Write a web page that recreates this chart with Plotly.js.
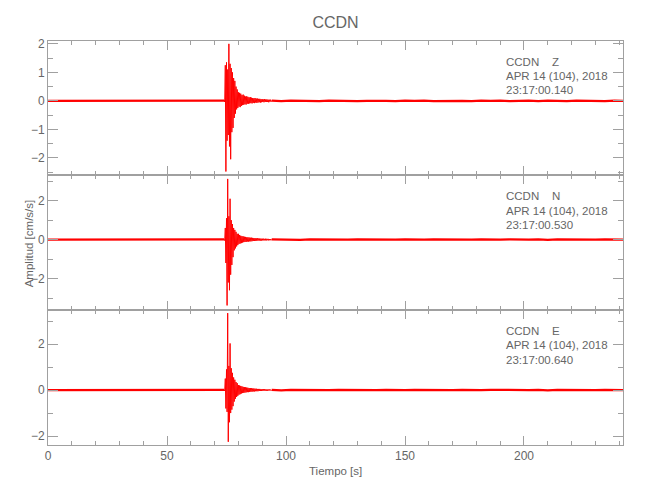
<!DOCTYPE html>
<html>
<head>
<meta charset="utf-8">
<script src="https://cdn.plot.ly/plotly-3.0.1.min.js"></script>
<style>html,body{margin:0;padding:0;background:#fff;}#chart{width:650px;height:500px;}</style>
</head>
<body>
<div id="chart"></div>
<script>
// ---- data ----
// sampling of each segment: start time [s] and step [s]
const preStart = -2, preStep = 4;
const evStart = 74, evStep = 0.25;
const postStart = 94, postStep = 4;

// Z component (baseline segments give the mean level of the thin noise band)
const zPre = [0.0,0.0,-0.01,0.01,0.0,0.01,-0.01,0.0,-0.01,0.01,0.0,0.01,-0.01,0.01,-0.01,0.01,-0.01,0.01,0.0,0.01];
const zEvent = [0.03,-0.04,1.25,-2.48,1.35,-1.4,1.1,-1.2,2.0,-1.6,1.3,-2.05,1.15,-1.1,1.0,-0.95,0.8,-0.6,0.7,-0.45,0.5,-0.3,0.4,-0.25,
  0.3,-0.2,0.28,-0.22,0.25,-0.18,0.2,-0.15,0.22,-0.14,0.18,-0.12,0.15,-0.13,0.16,-0.1,0.14,-0.1,0.12,-0.09,
  0.13,-0.08,0.11,-0.09,0.1,-0.07,0.09,-0.08,0.1,-0.06,0.08,-0.07,0.08,-0.06,0.07,-0.05,0.07,-0.06,0.06,-0.05,
  0.06,-0.04,0.05,-0.05,0.06,-0.04,0.05,-0.04,0.05,-0.04,0.04,-0.05,0.04,-0.03,0.04,-0.03,0.01];
const zPost = [0.01,-0.01,0.01,0.0,0.01,-0.01,0.01,0.0,0.01,-0.01,0.0,0.01,0.0,-0.01,0.01,0.0,0.01,-0.01,0.0,0.01,
  0.0,-0.01,0.01,0.0,0.01,-0.01,0.0,0.01,-0.01,0.01,0.0,-0.01,0.01,0.0,0.01,-0.01,0.01,0.0];

// N component
const nPre = [0.0,0.0,-0.01,0.01,0.0,0.01,0.0,-0.01,0.01,0.0,0.01,-0.01,0.0,0.01,-0.01,0.01,0.0,0.01,-0.01,0.01];
const nEvent = [0.02,-0.05,0.6,-1.2,1.1,-3.38,3.12,-2.2,1.2,-2.6,2.1,-1.8,1.0,-1.3,0.8,-0.9,0.6,-0.55,0.5,-0.45,0.4,-0.35,0.3,-0.28,
  0.3,-0.22,0.24,-0.2,0.2,-0.18,0.18,-0.15,0.17,-0.13,0.15,-0.12,0.14,-0.12,0.12,-0.1,0.12,-0.1,0.11,-0.09,
  0.1,-0.09,0.1,-0.08,0.09,-0.07,0.08,-0.07,0.08,-0.06,0.07,-0.06,0.07,-0.05,0.06,-0.05,0.06,-0.05,0.05,-0.05,
  0.05,-0.04,0.05,-0.04,0.04,-0.04,0.05,-0.04,0.04,-0.03,0.04,-0.04,0.03,-0.03,0.03,-0.03,0.01];
const nPost = [0.01,0.0,0.01,-0.01,0.01,0.0,0.01,-0.01,0.0,0.01,0.0,-0.01,0.01,0.0,0.01,-0.01,0.0,0.01,0.0,-0.01,
  0.01,0.0,0.01,-0.01,0.0,0.01,-0.01,0.0,0.01,-0.01,0.01,0.0,0.01,-0.01,0.0,0.01,0.01,0.0];

// E component
const ePre = [0.0,0.0,-0.01,0.0,0.01,-0.01,0.0,0.01,0.0,-0.01,0.01,0.0,-0.01,0.01,0.0,0.01,-0.01,0.01,0.0,0.01];
const eEvent = [0.02,-0.04,0.5,-0.8,0.9,-0.95,3.35,-2.25,1.05,-1.4,2.03,-1.0,0.95,-0.85,0.75,-0.7,0.55,-0.5,0.45,-0.38,0.35,-0.3,0.3,-0.25,
  0.22,-0.2,0.2,-0.18,0.18,-0.15,0.16,-0.13,0.14,-0.12,0.13,-0.11,0.12,-0.1,0.11,-0.09,0.1,-0.09,0.09,-0.08,
  0.09,-0.07,0.08,-0.07,0.07,-0.06,0.07,-0.06,0.06,-0.05,0.06,-0.05,0.05,-0.05,0.05,-0.04,0.05,-0.04,0.04,-0.04,
  0.04,-0.03,0.04,-0.03,0.04,-0.03,0.03,-0.03,0.03,-0.03,0.03,-0.02,0.03,-0.02,0.02,-0.02,0.01];
const ePost = [0.01,-0.01,0.01,0.0,0.01,-0.01,0.0,0.01,0.0,-0.01,0.01,0.0,0.01,-0.01,0.0,0.01,0.0,-0.01,0.01,0.0,
  0.01,-0.01,0.0,0.01,0.0,-0.01,0.01,0.0,0.01,-0.01,0.01,0.0,0.01,-0.01,0.0,0.01,0.01,0.0];

const GAP = '\u00a0\u00a0\u00a0\u00a0';
const stations = ['CCDN' + GAP + 'Z', 'CCDN' + GAP + 'N', 'CCDN' + GAP + 'E'];
const dateLabel = 'APR 14 (104), 2018';
const startTimes = ['23:17:00.140', '23:17:00.530', '23:17:00.640'];
const titleText = 'CCDN';
const xTitle = 'Tiempo [s]';
const yTitle = 'Amplitud [cm/s/s]';

// ---- styling ----
const FONT = 'Liberation Sans, Arial, sans-serif';
const RED = '#ff0000';
const AX = '#a0a0a0';
const TXT = '#666666';
const FS = 11.5;

function seg(y, x0, dx, w, xa, ya) {
  return {type: 'scatter', mode: 'lines', y: y, x0: x0, dx: dx, xaxis: xa, yaxis: ya,
          line: {color: RED, width: w}, hoverinfo: 'skip', showlegend: false};
}
const comps = [
  {pre: zPre, ev: zEvent, post: zPost, xa: 'x3', ya: 'y3'},
  {pre: nPre, ev: nEvent, post: nPost, xa: 'x2', ya: 'y2'},
  {pre: ePre, ev: eEvent, post: ePost, xa: 'x', ya: 'y'}
];
const data = [];
comps.forEach(c => {
  data.push(seg(c.pre, preStart, preStep, 2.2, c.xa, c.ya));
  data.push(seg(c.post, postStart, postStep, 2.2, c.xa, c.ya));
  data.push(seg(c.ev, evStart, evStep, 1, c.xa, c.ya));
});

function xAxis(anchor, labels) {
  return {anchor: anchor, range: [0, 241.6], dtick: 50, tick0: 0, ticks: 'inside', ticklen: 9,
    tickcolor: AX, tickwidth: 1, showline: true, linecolor: AX, linewidth: 1, mirror: 'allticks',
    showgrid: false, zeroline: false, showticklabels: labels,
    tickfont: {family: FONT, size: 12, color: TXT},
    minor: {dtick: 10, tick0: 0, ticks: 'inside', ticklen: 4, tickcolor: AX, showgrid: false}};
}
function yAxis(domain, range, dtick, mdtick) {
  return {domain: domain, anchor: 'x', range: range, dtick: dtick, tick0: 0, ticks: 'inside', ticklen: 10,
    tickcolor: AX, tickwidth: 1, showline: true, linecolor: AX, linewidth: 1, mirror: 'allticks',
    showgrid: false, zeroline: false, ticklabelstandoff: 0,
    tickfont: {family: FONT, size: 12, color: TXT},
    minor: {dtick: mdtick, tick0: 0, ticks: 'inside', ticklen: 5, tickcolor: AX, showgrid: false}};
}

const ann = [];
const annX = 0.795;
const lineY = [[0.9479, 0.9144, 0.8781], [0.6159, 0.5798, 0.5434], [0.2820, 0.2466, 0.2102]];
for (let i = 0; i < 3; i++) {
  const texts = [stations[i], dateLabel, startTimes[i]];
  for (let k = 0; k < 3; k++) {
    ann.push({xref: 'paper', yref: 'paper', x: annX, y: lineY[i][k], xanchor: 'left', yanchor: 'middle',
      text: texts[k], showarrow: false, borderpad: 0, font: {family: FONT, size: FS, color: TXT}});
  }
}
ann.push({xref: 'paper', yref: 'paper', x: 0.5, y: -0.0643, xanchor: 'center', yanchor: 'middle',
  text: xTitle, showarrow: false, font: {family: FONT, size: FS, color: TXT}});
ann.push({xref: 'paper', yref: 'paper', x: -0.0325, y: 0.5, xanchor: 'center', yanchor: 'middle', textangle: -90,
  text: yTitle, showarrow: false, font: {family: FONT, size: FS, color: TXT}});

const ya = yAxis([0, 0.3339], [-2.39, 3.48], 2, 1);
const ya2 = yAxis([0.3339, 0.6678], [-3.62, 3.31], 2, 1); ya2.anchor = 'x2';
const ya3 = yAxis([0.6678, 1], [-2.61, 2.1], 1, 0.5); ya3.anchor = 'x3';
const xa2 = xAxis('y2', false); xa2.matches = 'x';
const xa3 = xAxis('y3', false); xa3.matches = 'x';

const layout = {
  width: 650, height: 500,
  margin: {l: 47.7, r: 26.7, t: 40.7, b: 55, pad: 0},
  paper_bgcolor: '#fff', plot_bgcolor: '#fff',
  title: {text: titleText, x: 0.5, xref: 'paper', y: 0.956, yref: 'container', yanchor: 'middle',
          font: {family: FONT, size: 16, color: TXT}},
  xaxis: xAxis('y', true), xaxis2: xa2, xaxis3: xa3,
  yaxis: ya, yaxis2: ya2, yaxis3: ya3,
  annotations: ann, hovermode: false, showlegend: false
};
Plotly.newPlot('chart', data, layout, {staticPlot: true, displayModeBar: false});
</script>
</body>
</html>
